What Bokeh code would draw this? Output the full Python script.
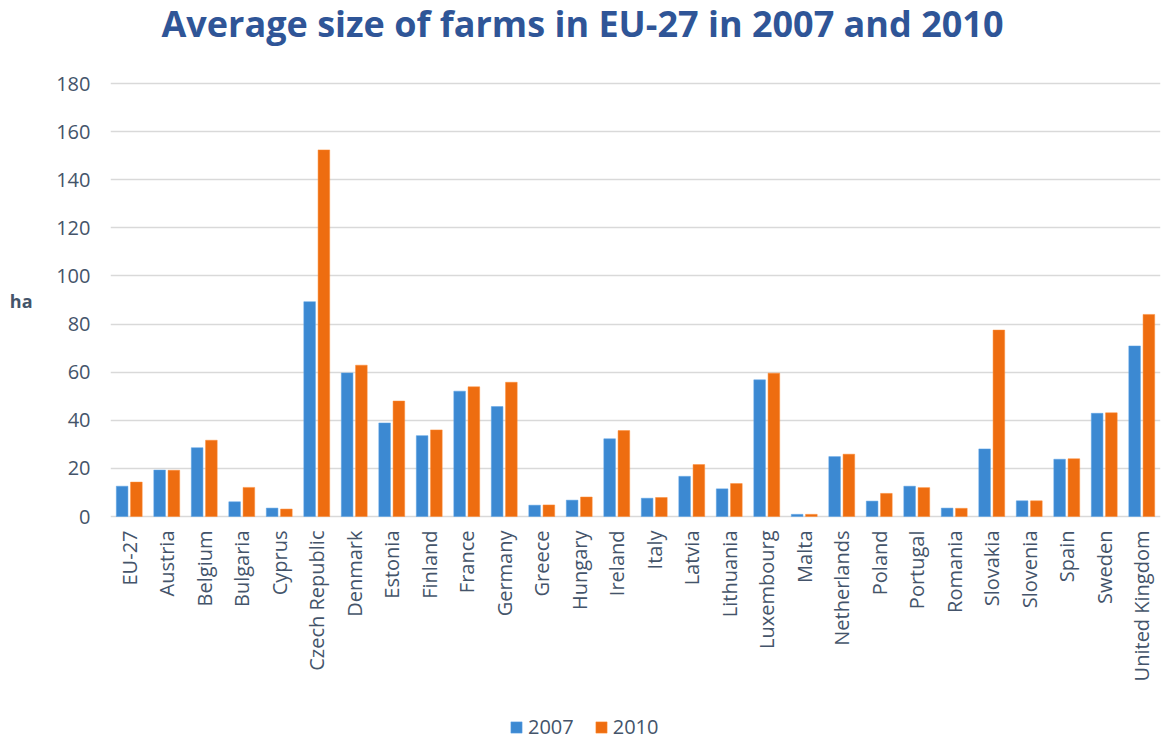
import math
from bokeh.plotting import figure
from bokeh.models import (ColumnDataSource, FactorRange, Range1d, Legend, LegendItem,
                          LinearAxis, FixedTicker)
from bokeh.core.properties import value
from bokeh.transform import dodge
from bokeh.embed import file_html
from bokeh.resources import INLINE

countries = ["EU-27", "Austria", "Belgium", "Bulgaria", "Cyprus", "Czech Republic", "Denmark",
             "Estonia", "Finland", "France", "Germany", "Greece", "Hungary", "Ireland", "Italy",
             "Latvia", "Lithuania", "Luxembourg", "Malta", "Netherlands", "Poland", "Portugal",
             "Romania", "Slovakia", "Slovenia", "Spain", "Sweden", "United Kingdom"]
y2007 = [12.6, 19.3, 28.6, 6.1, 3.5, 89.3, 59.7, 38.9, 33.6, 52.1, 45.7, 4.7, 6.8, 32.3, 7.6,
         16.7, 11.5, 56.8, 0.9, 24.9, 6.4, 12.6, 3.5, 28.1, 6.5, 23.8, 42.9, 70.9]
y2010 = [14.3, 19.2, 31.7, 12.1, 3.1, 152.4, 62.9, 48.0, 36.0, 53.9, 55.8, 4.8, 8.1, 35.7, 7.9,
         21.6, 13.7, 59.6, 0.9, 25.9, 9.6, 12.0, 3.4, 77.5, 6.5, 24.0, 43.1, 84.0]
y_ticks = [0, 20, 40, 60, 80, 100, 120, 140, 160, 180]
title_text = "Average size of farms in EU-27 in 2007 and 2010"
unit_label = "ha"

FONT = "Open Sans"
TXT = "#44546A"

# vertical scale: value 0 at 516 px, 180 at 83 px of a 740 px tall frame
PX = (516 - 83) / 180.0
Y_LO = -(740 - 516) / PX
Y_HI = 180 + 83 / PX

src = ColumnDataSource(dict(c=countries, a=y2007, b=y2010))

p = figure(x_range=FactorRange(*countries), y_range=Range1d(Y_LO, Y_HI),
           width=1165, height=740, output_backend="svg", toolbar_location=None,
           min_border_left=110, min_border_right=5, min_border_top=0, min_border_bottom=0)

r1 = p.vbar(x=dodge("c", -0.19, range=p.x_range), top="a", width=0.31, source=src,
            fill_color="#3C89D2", line_color="#5AA3E6", line_width=0.5)
r2 = p.vbar(x=dodge("c", 0.19, range=p.x_range), top="b", width=0.31, source=src,
            fill_color="#EE6D10", line_color="#FF8A33", line_width=0.5)

p.outline_line_color = None
p.xaxis.visible = False
p.xgrid.grid_line_color = None
p.ygrid.ticker = FixedTicker(ticks=y_ticks)
p.ygrid.grid_line_color = "#D9D9D9"
p.ygrid.grid_line_width = 1.5

p.yaxis.ticker = FixedTicker(ticks=y_ticks)
p.yaxis.axis_line_color = None
p.yaxis.major_tick_line_color = None
p.yaxis.minor_tick_line_color = None
p.yaxis.major_tick_out = 0
p.yaxis.major_tick_in = 0
p.yaxis.major_label_standoff = 20
p.yaxis.major_label_text_font = FONT
p.yaxis.major_label_text_font_size = "20px"
p.yaxis.major_label_text_color = TXT

# unit label "ha" shown as a tick label of an extra left axis
ha_pos = (516 - 300) / PX
ha_axis = LinearAxis(ticker=FixedTicker(ticks=[ha_pos]),
                     major_label_overrides={ha_pos: unit_label},
                     axis_line_color=None, major_tick_line_color=None,
                     minor_tick_line_color=None, major_tick_out=0, major_tick_in=0,
                     major_label_standoff=21, major_label_text_font=FONT,
                     major_label_text_font_style="bold", major_label_text_font_size="18px",
                     major_label_text_color=TXT)
p.add_layout(ha_axis, "left")

# category labels, rotated, hanging below the zero line
lab_y = -14 / PX
p.text(x=countries, y=[lab_y] * len(countries), text=countries, angle=math.pi / 2,
       text_align="right", text_baseline="middle", text_font=value(FONT),
       text_font_size="20px", text_color=TXT)

# title
p.text(x=[(582 - 110) / ((1160 - 110) / len(countries))], y=[Y_HI - 23 / PX], text=[title_text],
       text_align="center", text_baseline="middle", text_font=value(FONT),
       text_font_style="bold", text_font_size="36px", text_color="#2F5597")

legend = Legend(items=[LegendItem(label="2007", renderers=[r1]),
                       LegendItem(label="2010", renderers=[r2])],
                orientation="horizontal", location=(399, 0),
                label_text_font=FONT, label_text_font_size="20px", label_text_color=TXT,
                glyph_width=14, glyph_height=14, spacing=20, padding=0, margin=0,
                border_line_color=None, background_fill_alpha=0, label_standoff=5)
p.add_layout(legend, "center")

open("out.html", "w").write(file_html(p, INLINE))
